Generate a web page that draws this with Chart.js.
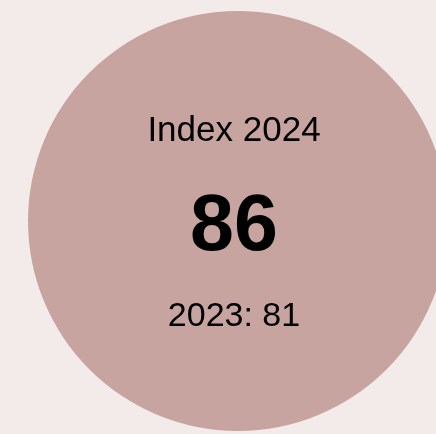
<!DOCTYPE html>
<html>
<head>
<meta charset="utf-8">
<script src="https://cdn.jsdelivr.net/npm/chart.js@4"></script>
<style>
  html, body { margin: 0; padding: 0; background: #f3ebe9; overflow: hidden; }
  #wrap { position: absolute; left: 0; top: 0; width: 476px; height: 434px; }
</style>
</head>
<body>
<div id="wrap"><canvas id="c"></canvas></div>
<script>
const categories = ["Index 2024"];
const currentValues = [86];
const previousYear = ["2023"];
const previousValues = [81];

const centerText = {
  id: 'centerText',
  afterDraw(chart) {
    const arc = chart.getDatasetMeta(0).data[0];
    if (!arc) return;
    const ctx = chart.ctx;
    const x = arc.x - 4, y = arc.y;
    ctx.save();
    ctx.fillStyle = '#000000';
    ctx.textAlign = 'center';
    ctx.textBaseline = 'alphabetic';
    ctx.font = '35px "Liberation Sans", Arial, sans-serif';
    ctx.fillText(categories[0], x, y - 80);
    ctx.font = 'bold 79px "Liberation Sans", Arial, sans-serif';
    ctx.fillText(String(currentValues[0]), x, y + 29);
    ctx.font = '34px "Liberation Sans", Arial, sans-serif';
    ctx.fillText(previousYear[0] + ': ' + previousValues[0], x, y + 105);
    ctx.restore();
  }
};

new Chart(document.getElementById('c'), {
  type: 'pie',
  data: {
    labels: categories,
    datasets: [{
      data: currentValues,
      backgroundColor: ['#c8a4a0'],
      borderWidth: 0,
      hoverOffset: 0
    }]
  },
  options: {
    responsive: true,
    maintainAspectRatio: false,
    animation: false,
    events: [],
    layout: { padding: { left: 28, right: 28, top: 11, bottom: 3 } },
    plugins: {
      legend: { display: false },
      tooltip: { enabled: false }
    }
  },
  plugins: [centerText]
});
</script>
</body>
</html>
